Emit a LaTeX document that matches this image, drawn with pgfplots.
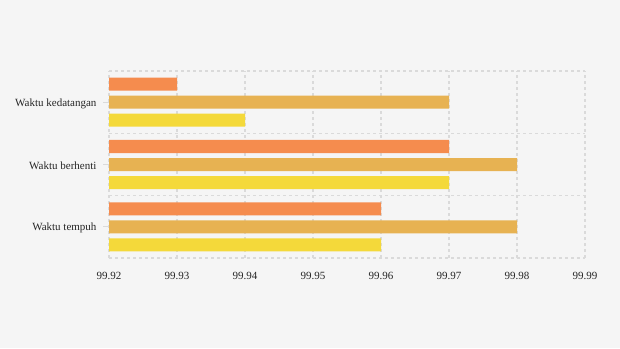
\documentclass[border=0pt]{standalone}
\usepackage{fontspec}
\setmainfont{Liberation Serif}
\usepackage{pgfplots}
\pgfplotsset{compat=1.18}
\definecolor{bg}{RGB}{245,245,245}
\definecolor{cOrange}{RGB}{245,140,78}
\definecolor{cAmber}{RGB}{231,178,82}
\definecolor{cYellow}{RGB}{244,217,58}
\definecolor{gridc}{RGB}{218,218,218}
\begin{document}
\begin{tikzpicture}
\fill[bg] (0,0) rectangle (620pt,348pt);
\begin{axis}[
  at={(109pt,90pt)}, anchor=south west,
  scale only axis, width=476pt, height=187pt,
  xmin=99.92, xmax=99.99, ymin=-0.5, ymax=2.5,
  xtick={99.92,99.93,99.94,99.95,99.96,99.97,99.98,99.99},
  xticklabels={99.92,99.93,99.94,99.95,99.96,99.97,99.98,99.99},
  ytick={0,1,2},
  yticklabels={Waktu tempuh,Waktu berhenti,Waktu kedatangan},
  minor ytick={-0.5,0.5,1.5,2.5},
  xmajorgrids, yminorgrids, ymajorgrids=false,
  grid style={draw=gridc, line width=1.2pt, dash pattern=on 3pt off 3pt},
  minor grid style={draw=gridc, line width=1.2pt, dash pattern=on 3pt off 3pt},
  axis line style={draw=none},
  tick align=outside, ytick pos=left,
  major tick length=6pt, minor tick length=0pt,
  xtick style={draw=none},
  ytick style={draw=gridc, line width=1pt},
  tick label style={font=\fontsize{11}{13}\selectfont, text=black!85},
  /pgf/number format/assume math mode=true,
  xticklabel style={yshift=-5pt},
  yticklabel style={xshift=-3pt, yshift=-1.5pt},
  xbar, bar width=13pt,
  clip=true,
]
\addplot[fill=cOrange, draw=none, bar shift=18pt] coordinates {(99.96,0) (99.97,1) (99.93,2)};
\addplot[fill=cAmber, draw=none, bar shift=0pt] coordinates {(99.98,0) (99.98,1) (99.97,2)};
\addplot[fill=cYellow, draw=none, bar shift=-18pt] coordinates {(99.96,0) (99.97,1) (99.94,2)};
\end{axis}
\end{tikzpicture}
\end{document}
